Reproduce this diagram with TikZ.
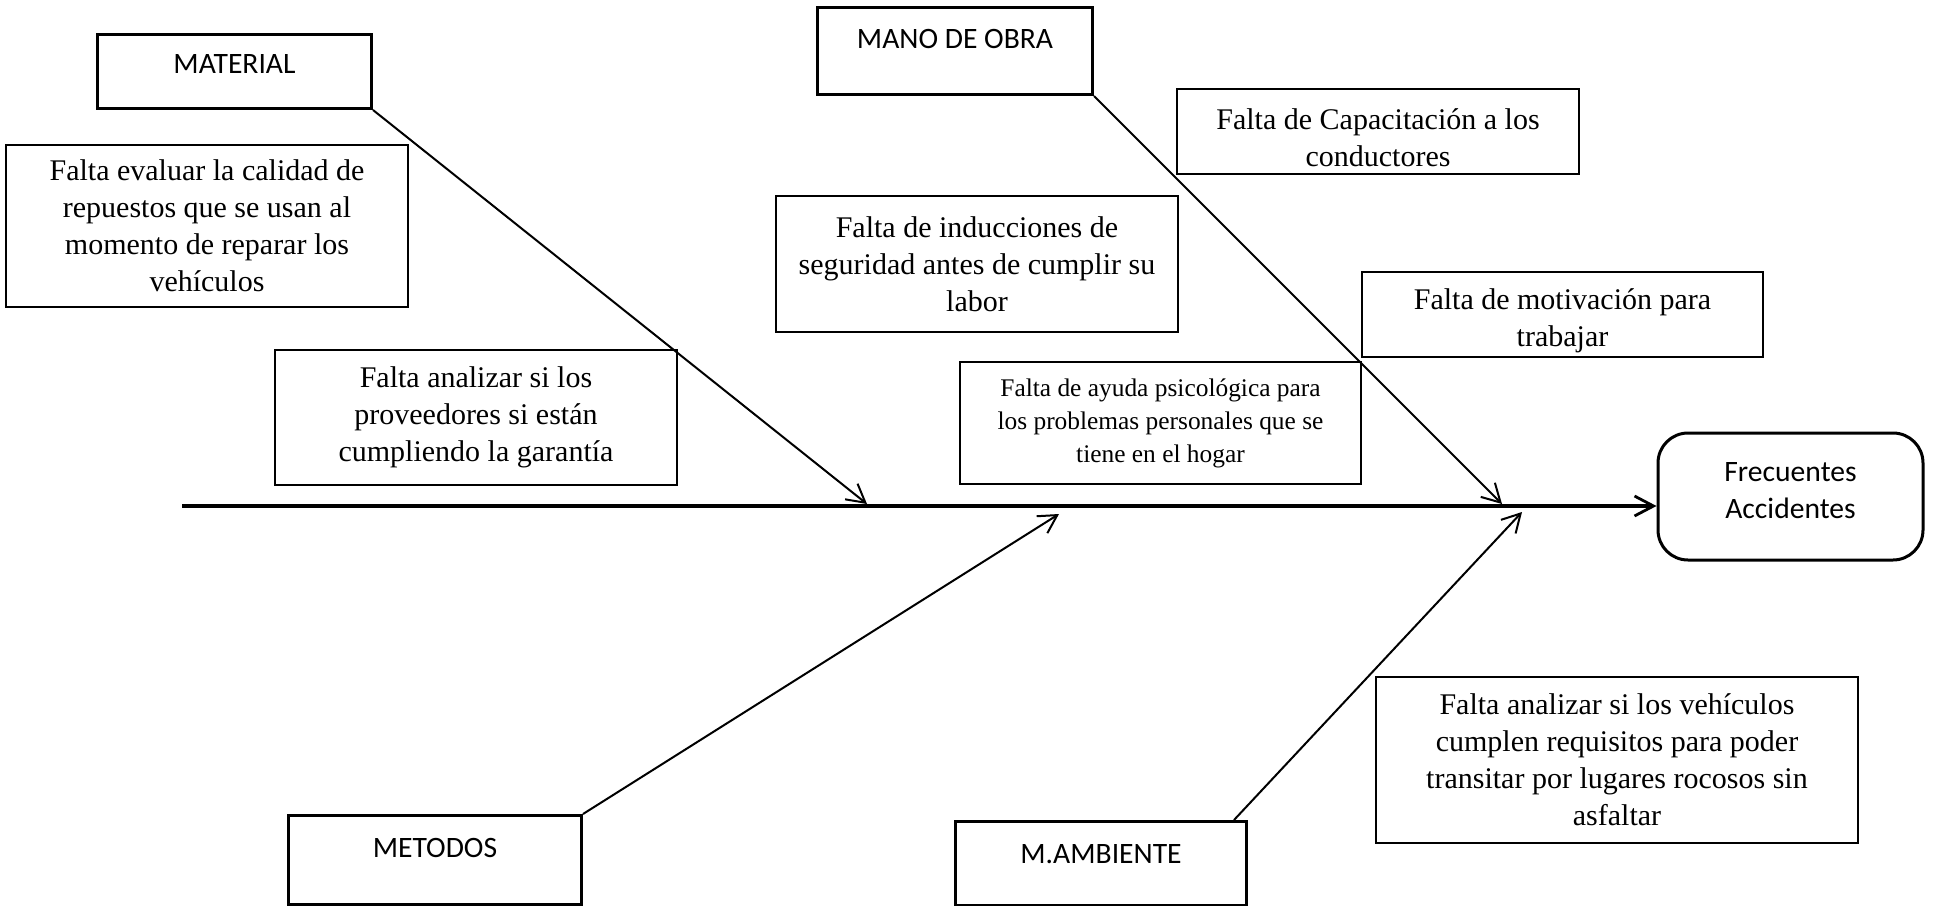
\documentclass[tikz,border=0pt]{standalone}
\usepackage{fontspec}
\setmainfont{Liberation Serif}
\newfontfamily\calibri{Carlito}
\usetikzlibrary{arrows.meta}
\begin{document}
\begin{tikzpicture}[x=0.5pt,y=-0.5pt,
  cat/.style={draw, line width=1.5pt, inner sep=0pt, anchor=north west,
    font=\calibri\fontsize{14.8}{17}\selectfont},
  cause/.style={draw, line width=0.6pt, inner sep=0pt, align=center,
    font=\fontsize{15}{18.5}\selectfont},
  branch/.style={line width=1pt, -{Straight Barb[length=9pt,width=10pt,line width=1pt]}},
  spine/.style={line width=1.6pt, -{Straight Barb[length=9.5pt,width=10pt,line width=1.4pt]}},
]
\useasboundingbox (0,0) rectangle (1933,905);

% category boxes
\node[cat, minimum width=137pt, text height=19.25pt, text depth=17.75pt] (mat) at (96,33) {MATERIAL};
\node[cat, minimum width=137.5pt, text height=20.25pt, text depth=23.25pt] (mano) at (816,6) {MANO DE OBRA};
\node[cat, minimum width=146.5pt, text height=20.75pt, text depth=23.75pt] (met) at (287,814) {METODOS};
\node[cat, minimum width=145.5pt, text height=20.75pt, text depth=21.25pt] (amb) at (954,820) {M.AMBIENTE};

% effect
\node[draw, line width=1.5pt, rounded corners=15pt, minimum width=132.5pt, minimum height=63.5pt,
  align=center, font=\calibri\fontsize{14.8}{18.5}\selectfont] (fr) at (1790.5,496.5)
  {Frecuentes\\Accidentes\rule[-6pt]{0pt}{0pt}};

% causes
\node[cause, minimum width=201pt, minimum height=81pt] (c1) at (207,226)
  {Falta evaluar la calidad de\\repuestos que se usan al\\momento de reparar los\\vehículos};
\node[cause, minimum width=201pt, minimum height=67.5pt] (c2) at (476,417.5)
  {Falta analizar si los\\proveedores si están\\cumpliendo la garantía};
\node[cause, minimum width=201pt, minimum height=68pt] (c3) at (977,264)
  {Falta de inducciones de\\seguridad antes de cumplir su\\labor};
\node[cause, minimum width=201pt, minimum height=42.5pt] (c4) at (1378,131.5)
  {\rule{0pt}{16.5pt}Falta de Capacitación a los\\conductores};
\node[cause, minimum width=200.5pt, minimum height=42.5pt] (c5) at (1562.5,314.5)
  {\rule{0pt}{16.5pt}Falta de motivación para\\trabajar};
\node[cause, minimum width=200.5pt, minimum height=61pt, font=\fontsize{12.7}{16.5}\selectfont] (c6) at (1160.5,423)
  {Falta de ayuda psicológica para\\los problemas personales que se\\tiene en el hogar};
\node[cause, minimum width=241pt, minimum height=83pt] (c7) at (1617,760)
  {Falta analizar si los vehículos\\cumplen requisitos para poder\\transitar por lugares rocosos sin\\asfaltar};

% spine
\coordinate (ms) at (182,506);
\draw[spine] (ms) -- (ms -| fr.west);

% branch ends on the spine
\coordinate (tmat) at (867,504);
\coordinate (tmano) at (1502,504);
\coordinate (tmet) at (1059,514);
\coordinate (tamb) at (1522,512);

\draw[branch] (mat.south east) -- (tmat);
\draw[branch] (mano.south east) -- (tmano);
\draw[branch] (met.north east) -- (tmet);
\draw[branch] ([xshift=-7pt]amb.north east) -- (tamb);
\end{tikzpicture}
\end{document}
